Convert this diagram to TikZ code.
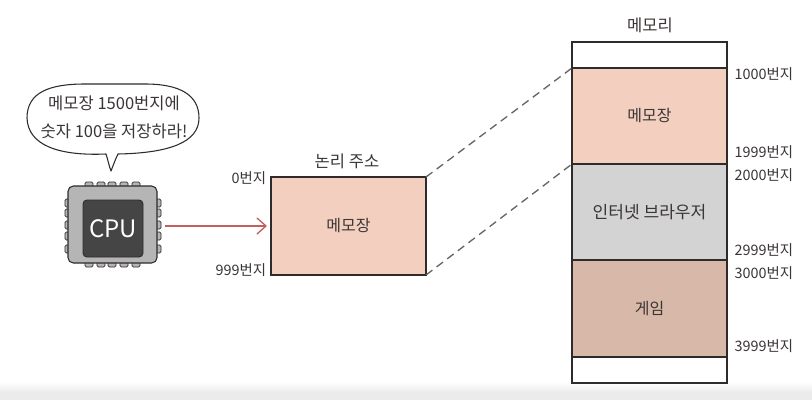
\documentclass[tikz,border=0pt]{standalone}
\usepackage{fontspec}
\setmainfont{Noto Sans CJK KR}
\definecolor{memo}{HTML}{F3CFBF}
\definecolor{web}{HTML}{D3D3D3}
\definecolor{game}{HTML}{D8B8A8}
\definecolor{ink}{HTML}{2F2B2A}
\definecolor{txt}{HTML}{3A3635}
\definecolor{chipc}{HTML}{B5B5B5}
\definecolor{chipd}{HTML}{454545}
\definecolor{arrowc}{HTML}{C4605C}
\definecolor{dashc}{HTML}{666666}
\tikzset{
  x=0.75pt,y=-0.75pt,
  every node/.style={inner sep=0pt,outer sep=0pt,text=txt,font=\fontsize{12}{14}\selectfont},
  block/.style={draw=ink,line width=1pt,minimum width=116.25pt,anchor=north west},
  addr/.style={anchor=east,font=\fontsize{10.8}{13}\selectfont},
  title/.style={font=\fontsize{12.4}{15}\selectfont},
  bubbletext/.style={font=\fontsize{12.4}{15}\selectfont},
  link/.style={draw=dashc,line width=1pt,dash pattern=on 6pt off 4pt},
  pin/.style={draw=ink,fill=chipc,line width=0.6pt,rounded corners=1pt},
}
\begin{document}
\begin{tikzpicture}
\useasboundingbox (0,0) rectangle (812,400);
\fill[white] (0,0) rectangle (812,400);
\shade[top color=white,bottom color=black!8] (0,382) rectangle (812,392);
\fill[black!8] (0,392) rectangle (812,400);

% speech bubble
\draw[draw=ink,line width=0.8pt,fill=white,line join=round]
  (106,154) .. controls (60,156) and (28,146) .. (27,118)
  .. controls (27,92) and (50,84) .. (85,84)
  -- (145,84) .. controls (180,84) and (199,95) .. (199,118)
  .. controls (199,142) and (170,153) .. (118,154)
  .. controls (115,160) and (113,166) .. (111,171)
  .. controls (109,166) and (108,160) .. (106,154) -- cycle;
\node[bubbletext] (bl1) at (114,103) {메모장 1500번지에};
\node[bubbletext] (bl2) at (114,131) {숫자 100을 저장하라!};

% CPU pins
\foreach \px in {89,101,112,124,136}{
  \draw[pin] (\px-4,182) rectangle (\px+4,188);
  \draw[pin] (\px-4,261) rectangle (\px+4,267);
}
\foreach \py in {203,213,225,236,249}{
  \draw[pin] (65,\py-4) rectangle (70,\py+4);
  \draw[pin] (155,\py-4) rectangle (161,\py+4);
}
\draw[draw=ink,line width=0.8pt,fill=chipc,rounded corners=4pt] (68,186) rectangle (157,263);
\node[name=cpu,draw=ink,line width=0.7pt,fill=chipd,rounded corners=3pt,minimum width=45pt,minimum height=42.75pt,anchor=north west,text=white,font=\fontsize{18}{21}\selectfont] at (83,200) {CPU};

% logical address
\node[block,fill=memo,minimum height=73.5pt] (logical) at (271,177) {};
\node at (logical.center) {메모장};
\node[title] (ltitle) at (347,161) {논리 주소};
\node[addr] (a0) at (266,178) {0번지};
\node[addr] (a999) at (266,270) {999번지};

% physical memory
\node[block,fill=white,minimum height=19.5pt,line width=0.8pt] (top) at (572,42) {};
\node[block,fill=white,minimum height=19.5pt,line width=0.8pt] (bottom) at (572,357) {};
\node[block,fill=memo,minimum height=72pt] (mmemo) at (572,68) {};
\node[block,fill=web,minimum height=72pt] (mweb) at (572,164) {};
\node[block,fill=game,minimum height=72.75pt] (mgame) at (572,260) {};
\node at (mmemo.center) {메모장};
\node[font=\fontsize{12.8}{15}\selectfont] at (mweb.center) {인터넷 브라우저};
\node at (mgame.center) {게임};
\node[title] (mtitle) at (650,25) {메모리};
\node[addr] (b1) at (793,74) {1000번지};
\node[addr] (b2) at (793,152) {1999번지};
\node[addr] (b3) at (793,175) {2000번지};
\node[addr] (b4) at (793,250) {2999번지};
\node[addr] (b5) at (793,273) {3000번지};
\node[addr] (b6) at (793,346) {3999번지};

% connectors
\coordinate (arrowstart) at (165,226);
\coordinate (arrowend) at (266,226);
\coordinate (tipa) at (257,218);
\coordinate (tipb) at (257,234);
\draw[arrowc,line width=1pt] (arrowstart) -- (arrowend);
\draw[arrowc,line width=1pt,line cap=round,line join=round] (tipa) -- (arrowend) -- (tipb);
\draw[link] (logical.north east) -- (mmemo.north west);
\draw[link] (logical.south east) -- (mweb.north west);
\end{tikzpicture}
\end{document}
